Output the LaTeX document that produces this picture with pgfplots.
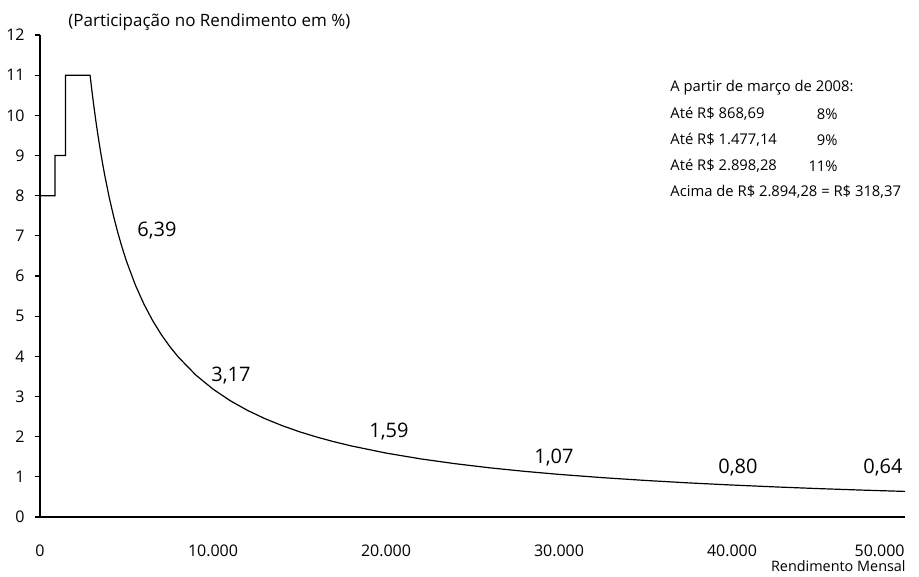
\documentclass[border=0pt]{standalone}
\usepackage{fontspec}
\setmainfont{Open Sans}
\usepackage{pgfplots}
\pgfplotsset{compat=1.18}

\begin{document}
\begin{tikzpicture}
\useasboundingbox (-20pt,-30pt) rectangle (439.5pt,258.5pt);
\begin{axis}[
  at={(0,0)}, anchor=origin,
  scale only axis, width=432.5pt, height=241pt,
  xmin=0, xmax=50000, ymin=0, ymax=12,
  axis lines=left, axis line style={-, line width=0.7pt},
  clip=false,
  ytick={0,1,...,12},
  yticklabels={0,1,2,3,4,5,6,7,8,9,10,11,12},
  xtick={0,10000,20000,30000,40000},
  xticklabels={0,10.000,20.000,30.000,40.000},
  extra x ticks={50000},
  extra x tick labels={50.000},
  extra x tick style={xticklabel style={anchor=north east}},
  xtick style={draw=none},
  ytick style={line width=0.6pt, black},
  tick align=outside, major tick length=2.5pt,
  tick label style={font=\fontsize{8}{9}\selectfont},
  xticklabel style={anchor=north, inner sep=0pt, yshift=-11pt},
  yticklabel style={anchor=east, inner sep=0pt, xshift=-5pt},
]
\addplot[black, line width=0.6pt] coordinates {
  (0,8) (868.69,8) (868.69,9) (1477.14,9) (1477.14,11) (2898.28,11)
  (2898.28,10.985) (3000,10.612) (3125,10.188) (3250,9.796) (3375,9.433)
  (3500,9.096) (3625,8.783) (3750,8.490) (4000,7.959) (4250,7.491)
  (4500,7.075) (4750,6.703) (5000,6.367) (5500,5.788) (6000,5.306)
  (6500,4.898) (7000,4.548) (7500,4.245) (8000,3.980) (9000,3.537)
  (10000,3.184) (11000,2.894) (12000,2.653) (13000,2.449) (14000,2.274)
  (15000,2.122) (16000,1.990) (17000,1.873) (18000,1.769) (20000,1.592)
  (22000,1.447) (24000,1.327) (26000,1.224) (28000,1.137) (30000,1.061)
  (32500,0.980) (35000,0.910) (37500,0.849) (40000,0.796) (42500,0.749)
  (45000,0.707) (47500,0.670) (50000,0.637)
};
\begin{scope}[font=\fontsize{10}{12}\selectfont]
\node at (axis cs:6763,7.12) {6,39};
\node at (axis cs:11040,3.53) {3,17};
\node at (axis cs:20173,2.12) {1,59};
\node at (axis cs:29711,1.47) {1,07};
\node at (axis cs:40347,1.24) {0,80};
\node at (axis cs:48728,1.24) {0,64};
\end{scope}
\end{axis}
\node[anchor=west, inner sep=0pt, font=\fontsize{8.5}{10}\selectfont] at (14pt,247.5pt) {(Participação no Rendimento em \%)};
\begin{scope}[font=\fontsize{7.4}{8.5}\selectfont]
\node[anchor=west, inner sep=0pt] at (315pt,214.5pt) {A partir de março de 2008:};
\node[anchor=west, inner sep=0pt] at (315pt,201.5pt) {Até R\$ 868,69};
\node[anchor=west, inner sep=0pt] at (315pt,188.5pt) {Até R\$ 1.477,14};
\node[anchor=west, inner sep=0pt] at (315pt,175.5pt) {Até R\$ 2.898,28};
\node[anchor=west, inner sep=0pt] at (315pt,162.5pt) {Acima de R\$ 2.894,28 = R\$ 318,37};
\node[anchor=east, inner sep=0pt] at (399pt,201.5pt) {8\%};
\node[anchor=east, inner sep=0pt] at (399pt,188.5pt) {9\%};
\node[anchor=east, inner sep=0pt] at (399pt,175.5pt) {11\%};
\end{scope}
\node[anchor=east, inner sep=0pt, font=\fontsize{7.2}{9}\selectfont] at (433pt,-24.5pt) {Rendimento Mensal};
\end{tikzpicture}
\end{document}
